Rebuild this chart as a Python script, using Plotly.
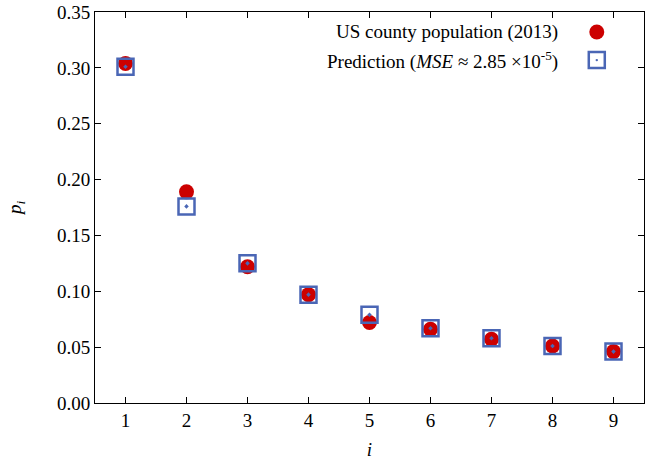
import plotly.graph_objects as go

# ── Data ─────────────────────────────────────────────────────────────────────
digits     = [1, 2, 3, 4, 5, 6, 7, 8, 9]
observed   = [0.304, 0.189, 0.122, 0.097, 0.072, 0.066, 0.057, 0.051, 0.046]
predicted  = [0.301, 0.176, 0.125, 0.097, 0.079, 0.067, 0.058, 0.051, 0.046]
y_ticks    = [0.00, 0.05, 0.10, 0.15, 0.20, 0.25, 0.30, 0.35]

RED  = "#cc0000"
BLUE = "#4a66b5"
FONT = '"Liberation Serif", serif'
FS   = 19

fig = go.Figure()

fig.add_trace(go.Scatter(
    x=digits, y=observed, mode="markers",
    marker=dict(symbol="circle", size=15, color=RED, line=dict(width=0)),
    name="US county population (2013)",
))
fig.add_trace(go.Scatter(
    x=digits, y=predicted, mode="markers",
    marker=dict(symbol="square-open-dot", size=16, color=BLUE, line=dict(width=2.5, color=BLUE)),
    name="Prediction",
))

axis_common = dict(
    showline=True, linecolor="black", linewidth=1, mirror="ticks",
    ticks="inside", ticklen=6, tickcolor="black", tickwidth=1,
    showgrid=False, zeroline=False, automargin=False,
    tickfont=dict(family=FONT, size=FS, color="black"),
)

fig.update_xaxes(range=[0.5, 9.5], tickvals=digits, **axis_common,
                 title=dict(text="<i>i</i>", font=dict(family=FONT, size=FS, color="black"), standoff=14))
fig.update_yaxes(range=[0, 0.35], tickvals=y_ticks, tickformat=".2f", **axis_common,
                 title=dict(text="<i>p<sub>i</sub></i>", font=dict(family=FONT, size=FS, color="black"), standoff=30))

# ── Gnuplot-style legend (text left, key right) ──────────────────────────────
leg_x_text = 0.847
leg_x_key = 0.914
rows = [0.949, 0.877]
labels = ["US county population (2013)",
          "Prediction (<i>MSE</i> ≈ 2.85 ×10<sup>-5</sup>)"]
for yy, lab in zip(rows, labels):
    fig.add_annotation(x=leg_x_text, y=yy, xref="paper", yref="paper",
                       text=lab, showarrow=False, xanchor="right", yanchor="middle",
                       font=dict(family=FONT, size=FS, color="black"))

fig.add_shape(type="circle", xref="paper", yref="paper",
              xsizemode="pixel", ysizemode="pixel",
              xanchor=leg_x_key, yanchor=rows[0], x0=-7.5, x1=7.5, y0=-7.5, y1=7.5,
              fillcolor=RED, line=dict(width=0))
fig.add_shape(type="rect", xref="paper", yref="paper",
              xsizemode="pixel", ysizemode="pixel",
              xanchor=leg_x_key, yanchor=rows[1], x0=-8, x1=8, y0=-8, y1=8,
              fillcolor="rgba(0,0,0,0)", line=dict(width=2.5, color=BLUE))
fig.add_shape(type="circle", xref="paper", yref="paper",
              xsizemode="pixel", ysizemode="pixel",
              xanchor=leg_x_key, yanchor=rows[1], x0=-1.2, x1=1.2, y0=-1.2, y1=1.2,
              fillcolor=BLUE, line=dict(width=0))

fig.update_layout(
    width=652, height=460,
    paper_bgcolor="white", plot_bgcolor="white",
    margin=dict(l=95, r=8, t=12, b=57),
    showlegend=False,
    font=dict(family=FONT, size=FS, color="black"),
)

# drop the default page margin so the figure sits at the window's corner
fig.write_html("out.html", config={"displayModeBar": False},
               post_script="document.body.style.margin='0';")
